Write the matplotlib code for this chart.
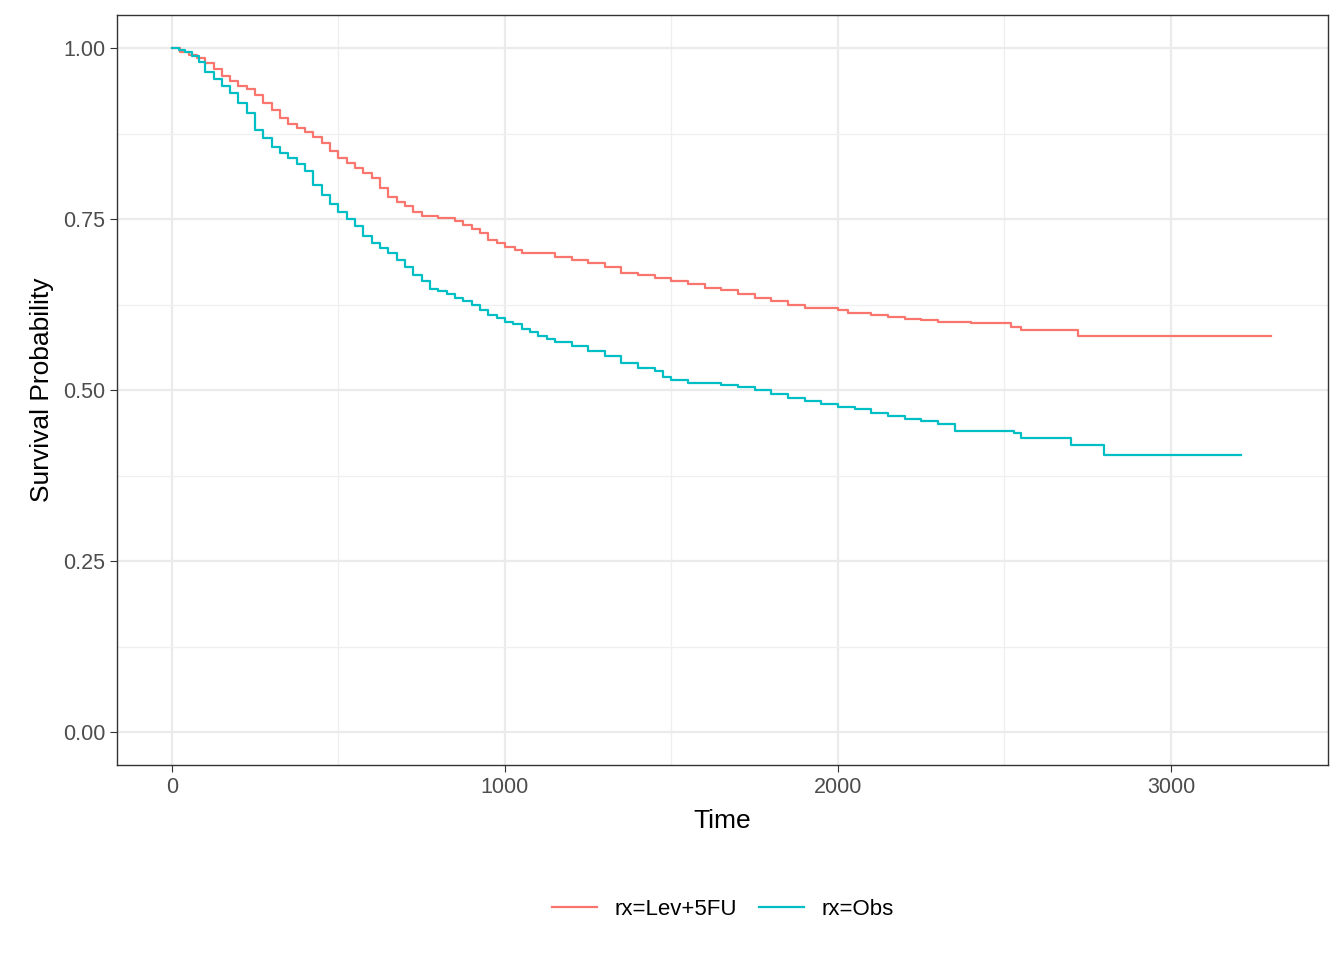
import matplotlib
matplotlib.use("Agg")
import matplotlib.pyplot as plt

# survival curves (time, probability)
lev_time = [0, 25, 50, 75, 100, 125, 150, 175, 200, 225, 250, 275, 300, 325, 350, 375,
            400, 425, 450, 475, 500, 525, 550, 575, 600, 625, 650, 675, 700, 725, 750,
            800, 850, 875, 900, 925, 950, 975, 1000, 1030, 1050, 1150, 1200, 1250, 1300,
            1350, 1400, 1450, 1500, 1550, 1600, 1650, 1700, 1750, 1800, 1850, 1900, 2000,
            2030, 2100, 2150, 2200, 2250, 2300, 2400, 2520, 2550, 2720, 3300]
lev_surv = [1.0, 0.995, 0.99, 0.985, 0.978, 0.97, 0.96, 0.952, 0.945, 0.94, 0.932, 0.92,
            0.91, 0.898, 0.889, 0.884, 0.878, 0.87, 0.862, 0.85, 0.84, 0.832, 0.825,
            0.818, 0.81, 0.795, 0.782, 0.775, 0.77, 0.76, 0.755, 0.752, 0.748, 0.742,
            0.735, 0.73, 0.72, 0.715, 0.71, 0.705, 0.70, 0.695, 0.69, 0.686, 0.68, 0.672,
            0.668, 0.664, 0.66, 0.655, 0.65, 0.646, 0.64, 0.635, 0.63, 0.624, 0.62, 0.618,
            0.613, 0.61, 0.607, 0.604, 0.602, 0.60, 0.598, 0.593, 0.588, 0.579, 0.579]
obs_time = [0, 20, 40, 60, 80, 100, 125, 150, 175, 200, 225, 250, 275, 300, 325, 350,
            375, 400, 425, 450, 475, 500, 525, 550, 575, 600, 625, 650, 675, 700, 725,
            750, 775, 800, 825, 850, 875, 900, 925, 950, 975, 1000, 1025, 1050, 1075,
            1100, 1125, 1150, 1200, 1250, 1300, 1350, 1400, 1450, 1475, 1500, 1550, 1650,
            1700, 1750, 1800, 1850, 1900, 1950, 2000, 2050, 2100, 2150, 2200, 2250, 2300,
            2350, 2530, 2550, 2700, 2800, 3210]
obs_surv = [1.0, 0.998, 0.995, 0.988, 0.98, 0.965, 0.955, 0.945, 0.935, 0.92, 0.905, 0.88,
            0.868, 0.855, 0.847, 0.84, 0.83, 0.82, 0.80, 0.785, 0.772, 0.76, 0.75, 0.74,
            0.725, 0.715, 0.708, 0.70, 0.69, 0.68, 0.668, 0.66, 0.648, 0.645, 0.64,
            0.635, 0.63, 0.625, 0.618, 0.61, 0.605, 0.60, 0.597, 0.59, 0.585, 0.58,
            0.575, 0.57, 0.565, 0.558, 0.55, 0.54, 0.532, 0.528, 0.52, 0.515, 0.51,
            0.508, 0.505, 0.50, 0.494, 0.488, 0.485, 0.48, 0.476, 0.472, 0.466, 0.462,
            0.458, 0.455, 0.45, 0.44, 0.437, 0.43, 0.42, 0.405, 0.405]
labels = ["rx=Lev+5FU", "rx=Obs"]
colors = ["#F8766D", "#00BFC4"]

plt.rcParams["font.family"] = ["Liberation Sans", "DejaVu Sans"]
fig = plt.figure(figsize=(13.44, 9.6), dpi=100)
ax = fig.add_axes([0.087, 0.203, 0.901, 0.781])

ax.set_xticks([500, 1500, 2500], minor=True)
ax.set_yticks([0.125, 0.375, 0.625, 0.875], minor=True)
ax.grid(True, which="major", color="#EBEBEB", lw=1.6)
ax.grid(True, which="minor", color="#EFEFEF", lw=0.9)
ax.set_axisbelow(True)

for t, s, lab, c in [(lev_time, lev_surv, labels[0], colors[0]),
                     (obs_time, obs_surv, labels[1], colors[1])]:
    ax.step(t, s, where="post", color=c, lw=1.6, label=lab)

ax.set_xlim(-165, 3471)
ax.set_ylim(-0.048, 1.048)
ax.set_xticks([0, 1000, 2000, 3000])
ax.set_yticks([0, 0.25, 0.5, 0.75, 1.0])
ax.set_yticklabels(["0.00", "0.25", "0.50", "0.75", "1.00"])
ax.tick_params(which="major", labelsize=15.5, labelcolor="#4D4D4D", color="#333333", length=5)
ax.tick_params(which="minor", length=0)
for sp in ax.spines.values():
    sp.set_color("#333333")
    sp.set_linewidth(1.0)
ax.set_xlabel("Time", fontsize=19, labelpad=8)
ax.set_ylabel("Survival Probability", fontsize=19, labelpad=6)

fig.legend(loc="center", bbox_to_anchor=(0.538, 0.053), ncol=2, frameon=False,
           fontsize=16, handlelength=2, columnspacing=1.0)
fig.savefig("out.png", dpi=100)
